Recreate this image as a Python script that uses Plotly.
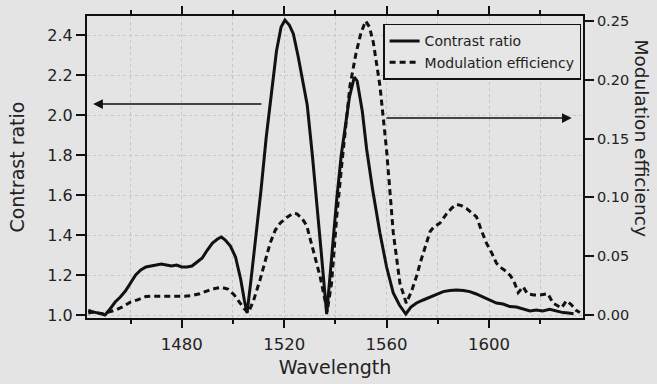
import plotly.graph_objects as go

# Contrast ratio (left axis) vs wavelength
wl_cr = [1443.5, 1445.5, 1448, 1450, 1452, 1454, 1456, 1458, 1460, 1462, 1464, 1466, 1468, 1470,
         1472, 1474, 1476, 1478, 1480, 1482, 1484, 1486, 1488, 1490, 1492, 1494, 1495.5, 1497,
         1499, 1501, 1503, 1504.5, 1505.5, 1507, 1509, 1511, 1513, 1515, 1517, 1518.8, 1520.3,
         1522, 1523.6, 1525.5, 1527.5, 1529, 1531, 1532.7, 1534.5, 1536.6, 1538.5, 1540.5, 1542.3,
         1543.7, 1545.5, 1547.4, 1548.5, 1550.5, 1552.2, 1554.5, 1557.4, 1560, 1562.6, 1565,
         1567.5, 1569.5, 1571.7, 1574.3, 1576.9, 1579.5, 1582.1, 1584.7, 1587.3, 1590, 1592.5,
         1595, 1597.7, 1600.3, 1602.9, 1605.5, 1608.1, 1610.7, 1613.3, 1616, 1618.5, 1621,
         1623.7, 1626.3, 1628.9, 1631, 1633]
contrast_ratio = [1.01, 1.015, 1.008, 1.0, 1.03, 1.065, 1.09, 1.12, 1.16, 1.2, 1.225, 1.24, 1.245,
                  1.25, 1.255, 1.25, 1.245, 1.25, 1.24, 1.24, 1.245, 1.265, 1.285, 1.325, 1.36,
                  1.38, 1.39, 1.375, 1.345, 1.29, 1.18, 1.07, 1.01, 1.17, 1.39, 1.63, 1.89, 2.1,
                  2.32, 2.44, 2.475, 2.45, 2.405, 2.29, 2.16, 2.05, 1.8, 1.575, 1.31, 1.005, 1.29,
                  1.575, 1.8, 1.93, 2.09, 2.19, 2.17, 2.02, 1.83, 1.63, 1.41, 1.24, 1.11, 1.05,
                  1.005, 1.04, 1.06, 1.075, 1.09, 1.105, 1.117, 1.122, 1.125, 1.122, 1.117, 1.105,
                  1.09, 1.075, 1.06, 1.055, 1.042, 1.04, 1.03, 1.02, 1.025, 1.02, 1.028, 1.02,
                  1.012, 1.01, 1.006]

# Modulation efficiency (right axis) vs wavelength
wl_me = [1443.5, 1446, 1449, 1451, 1454, 1457, 1460, 1463, 1466, 1469, 1472, 1475, 1478, 1481,
         1484, 1487, 1490, 1493, 1495.5, 1498, 1500.5, 1502.8, 1504.5, 1506, 1508, 1510.6,
         1512.5, 1514.5, 1516.5, 1518.4, 1521, 1523.5, 1525, 1527, 1528.8, 1531.4, 1534, 1535.9,
         1536.8, 1538.5, 1540.5, 1542.4, 1544, 1545.7, 1548, 1550, 1551.8, 1553.3, 1554.8, 1556,
         1557.4, 1560, 1562.6, 1565.2, 1567.7, 1569.7, 1571.7, 1573.5, 1575.5, 1577, 1578.5,
         1580.8, 1583.4, 1585.5, 1587.3, 1589.2, 1591.2, 1593.2, 1595.1, 1597, 1599, 1601,
         1602.9, 1604.8, 1606.8, 1608.5, 1610, 1611.4, 1613.3, 1615, 1617.5, 1620, 1623, 1625,
         1628.3, 1630.2, 1632, 1634, 1635.5]
mod_efficiency = [0.004, 0.002, 0.001, 0.002, 0.004, 0.007, 0.011, 0.013, 0.0156, 0.016, 0.016,
                  0.016, 0.0155, 0.016, 0.0165, 0.018, 0.0205, 0.0225, 0.0235, 0.022, 0.017,
                  0.010, 0.005, 0.002, 0.012, 0.03, 0.046, 0.061, 0.072, 0.078, 0.083, 0.0865,
                  0.086, 0.082, 0.076, 0.055, 0.033, 0.013, 0.003, 0.027, 0.083, 0.126, 0.16,
                  0.195, 0.222, 0.24, 0.25, 0.245, 0.232, 0.215, 0.195, 0.14, 0.07, 0.027, 0.01,
                  0.02, 0.033, 0.047, 0.061, 0.071, 0.075, 0.078, 0.086, 0.091, 0.094, 0.093,
                  0.0905, 0.087, 0.0835, 0.072, 0.061, 0.053, 0.044, 0.04, 0.037, 0.033, 0.027,
                  0.019, 0.024, 0.018, 0.017, 0.017, 0.018, 0.01, 0.006, 0.012, 0.009, 0.004,
                  0.002]

x_ticks = [1480, 1520, 1560, 1600]
y_left_ticks = [1.0, 1.2, 1.4, 1.6, 1.8, 2.0, 2.2, 2.4]
y_right_ticks = [0.0, 0.05, 0.10, 0.15, 0.20, 0.25]

BG = "#e4e4e4"
INK = "#111111"
GRID = "#c6c6c6"
FONT = "DejaVu Sans"
TEXT = "#222222"

fig = go.Figure()
fig.add_trace(go.Scatter(
    x=wl_cr, y=contrast_ratio, name="Contrast ratio", mode="lines",
    line=dict(color=INK, width=3), yaxis="y"))
fig.add_trace(go.Scatter(
    x=wl_me, y=mod_efficiency, name="Modulation efficiency", mode="lines",
    line=dict(color=INK, width=3, dash="6px,4px"), yaxis="y2"))

fig.update_layout(
    width=657, height=384,
    margin=dict(l=87, r=74, t=16, b=66, autoexpand=False),
    paper_bgcolor=BG, plot_bgcolor=BG,
    font=dict(family=FONT, color=TEXT),
    showlegend=True,
    legend=dict(
        x=0.597, y=0.974, xanchor="left", yanchor="top",
        bgcolor="#e6e6e6", bordercolor=INK, borderwidth=1.5,
        font=dict(size=14, family=FONT, color=TEXT),
        tracegroupgap=0, itemwidth=30),
    xaxis=dict(
        range=[1443, 1636.7], tickmode="array", tickvals=x_ticks,
        ticks="outside", ticklen=8, tickwidth=1.5, tickcolor=INK,
        showline=True, linecolor=INK, linewidth=2, mirror="ticks",
        showgrid=True, gridcolor=GRID, griddash="dot", gridwidth=1,
        minor=dict(dtick=20, tick0=1440, ticks="outside", ticklen=4, tickwidth=1.5,
                   tickcolor=INK, showgrid=True, gridcolor=GRID, griddash="dot"),
        tickfont=dict(size=16.5), zeroline=False, ticklabelstandoff=2, automargin=False,
        title=dict(text="Wavelength", font=dict(size=19), standoff=8),
    ),
    yaxis=dict(
        range=[0.985, 2.495], tickmode="array", tickvals=y_left_ticks,
        ticktext=[f"{v:.1f}" for v in y_left_ticks],
        ticks="outside", ticklen=9, tickwidth=1.5, tickcolor=INK,
        showline=True, linecolor=INK, linewidth=2,
        showgrid=True, gridcolor=GRID, griddash="dot", gridwidth=1,
        tickfont=dict(size=16), zeroline=False, automargin=False,
    ),
    yaxis2=dict(
        range=[-0.0026, 0.2543], overlaying="y", side="right",
        tickmode="array", tickvals=y_right_ticks,
        ticktext=[f"{v:.2f}" for v in y_right_ticks],
        ticks="outside", ticklen=9, tickwidth=1.5, tickcolor=INK,
        showline=True, linecolor=INK, linewidth=2, automargin=False,
        showgrid=False, zeroline=False, tickfont=dict(size=14.5),
    ),
)

# Direction arrows: which curve belongs to which axis
fig.add_annotation(x=1445.4, y=2.055, ax=1511.7, ay=2.055, xref="x", yref="y",
                   axref="x", ayref="y", text="", showarrow=True,
                   arrowhead=2, arrowsize=1.3, arrowwidth=1.5, arrowcolor=INK)
fig.add_annotation(x=1632.3, y=1.985, ax=1559.4, ay=1.985, xref="x", yref="y",
                   axref="x", ayref="y", text="", showarrow=True,
                   arrowhead=2, arrowsize=1.3, arrowwidth=1.5, arrowcolor=INK)

# Axis titles placed as annotations for exact positioning
fig.add_annotation(x=-0.142, y=0.5, xref="paper", yref="paper", text="Contrast ratio",
                   textangle=-90, showarrow=False, font=dict(size=19, family=FONT, color=TEXT),
                   xanchor="center", yanchor="middle")
fig.add_annotation(x=1.118, y=0.596, xref="paper", yref="paper", text="Modulation efficiency",
                   textangle=90, showarrow=False, font=dict(size=18.5, family=FONT, color=TEXT),
                   xanchor="center", yanchor="middle")

fig.write_html("out.html")
